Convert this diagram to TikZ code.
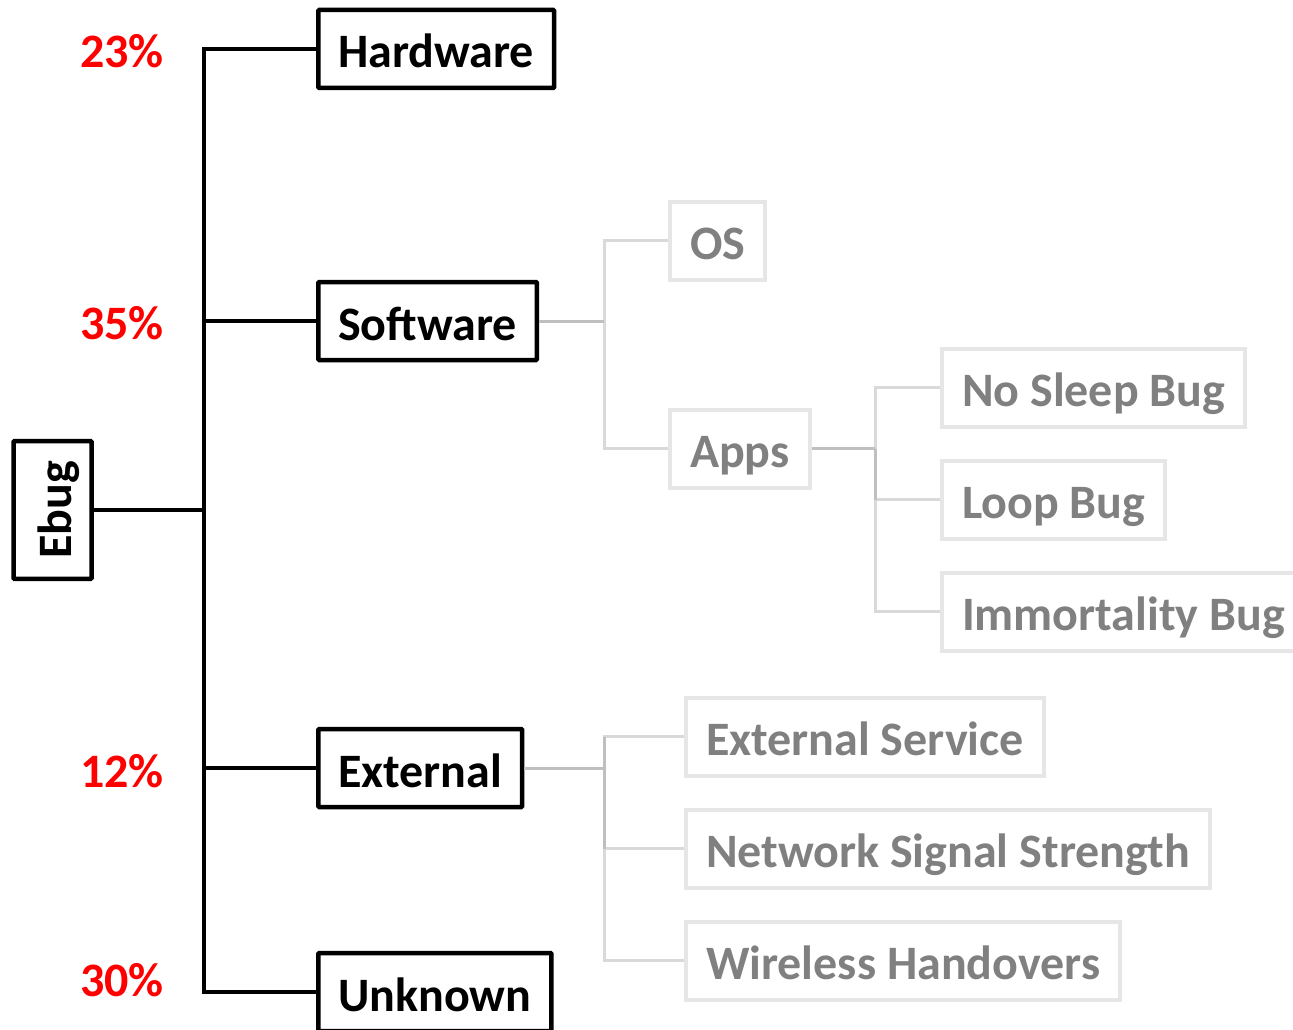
\documentclass[tikz,border=0pt]{standalone}
\usepackage{fontspec}
\setmainfont{Carlito}
\definecolor{pctred}{HTML}{FF0000}
\definecolor{boxgray}{HTML}{E6E6E6}
\definecolor{textgray}{HTML}{808080}
\definecolor{linelight}{HTML}{D9D9D9}
\definecolor{linemid}{HTML}{BFBFBF}
\begin{document}
\begin{tikzpicture}[x=1pt,y=-1pt,
  every node/.style={font=\fontsize{48}{48}\selectfont\bfseries},
  mainbox/.style={draw=black, line width=4.5pt, rectangle, rounded corners=1pt,
    minimum height=78pt, inner xsep=20pt, inner ysep=0pt,
    text height=38pt, text depth=0pt, anchor=west},
  subbox/.style={draw=boxgray, line width=4pt, rectangle, text=textgray,
    minimum height=78pt, inner xsep=20pt, inner ysep=0pt,
    text height=38pt, text depth=0pt, anchor=west},
  pct/.style={text=pctred, anchor=base, inner sep=0pt},
  trunk/.style={line width=3.5pt, black},
  lite/.style={line width=3pt, linelight},
  mid/.style={line width=3pt, linemid}]
\useasboundingbox (0,0) rectangle (1293,1030);

% main nodes
\node[mainbox, rotate=90, anchor=center] (ebug) at (52.5,510) {Ebug};
\node[mainbox] (hw) at (316,49) {Hardware};
\node[mainbox] (sw) at (316,321) {Software};
\node[mainbox] (ext) at (316,768) {External};
\node[mainbox] (unk) at (316,992) {Unknown};

% percentages
\node[pct] (p1) at (122,68) {23\%};
\node[pct] (p2) at (122,339) {35\%};
\node[pct] (p3) at (122,787) {12\%};
\node[pct] (p4) at (122,996) {30\%};

% trunk
\coordinate (tr) at (204,510);
\coordinate (ttop) at (204,49);
\coordinate (tbot) at (204,992);
\draw[trunk] (ebug.south) -- (tr);
\draw[trunk] (hw.west) -- (ttop) -- (tbot) -- (unk.west);
\draw[trunk] (sw.west) -- (sw.west -| tr);
\draw[trunk] (ext.west) -- (ext.west -| tr);

% software subtree
\node[subbox] (os) at (668,240.5) {OS};
\node[subbox] (apps) at (668,448.5) {Apps};
\coordinate (sj) at (604,321);
\draw[lite] (os.west) -- (os.west -| sj) -- (apps.west -| sj) -- (apps.west);
\draw[mid] (sw.east) -- (sj);

% apps subtree
\node[subbox] (nsb) at (940,387.5) {No Sleep Bug};
\node[subbox] (lb) at (940,499.5) {Loop Bug};
\node[subbox] (ib) at (940,611.5) {Immortality Bug};
\coordinate (aj) at (875,448.5);
\draw[lite] (nsb.west) -- (nsb.west -| aj) -- (ib.west -| aj) -- (ib.west);
\draw[lite] (lb.west) -- (lb.west -| aj);
\draw[mid] (apps.east) -- (aj);
\draw[mid] (aj) -- (lb.west -| aj);

% external subtree
\node[subbox] (es) at (684,736.5) {External Service};
\node[subbox] (nss) at (684,848.5) {Network Signal Strength};
\node[subbox] (wh) at (684,960.5) {Wireless Handovers};
\coordinate (ej) at (604,768);
\draw[lite] (es.west) -- (es.west -| ej) -- (wh.west -| ej) -- (wh.west);
\draw[lite] (nss.west) -- (nss.west -| ej);
\draw[mid] (ext.east) -- (ej);
\draw[mid] (es.west -| ej) -- (nss.west -| ej);
\end{tikzpicture}
\end{document}
